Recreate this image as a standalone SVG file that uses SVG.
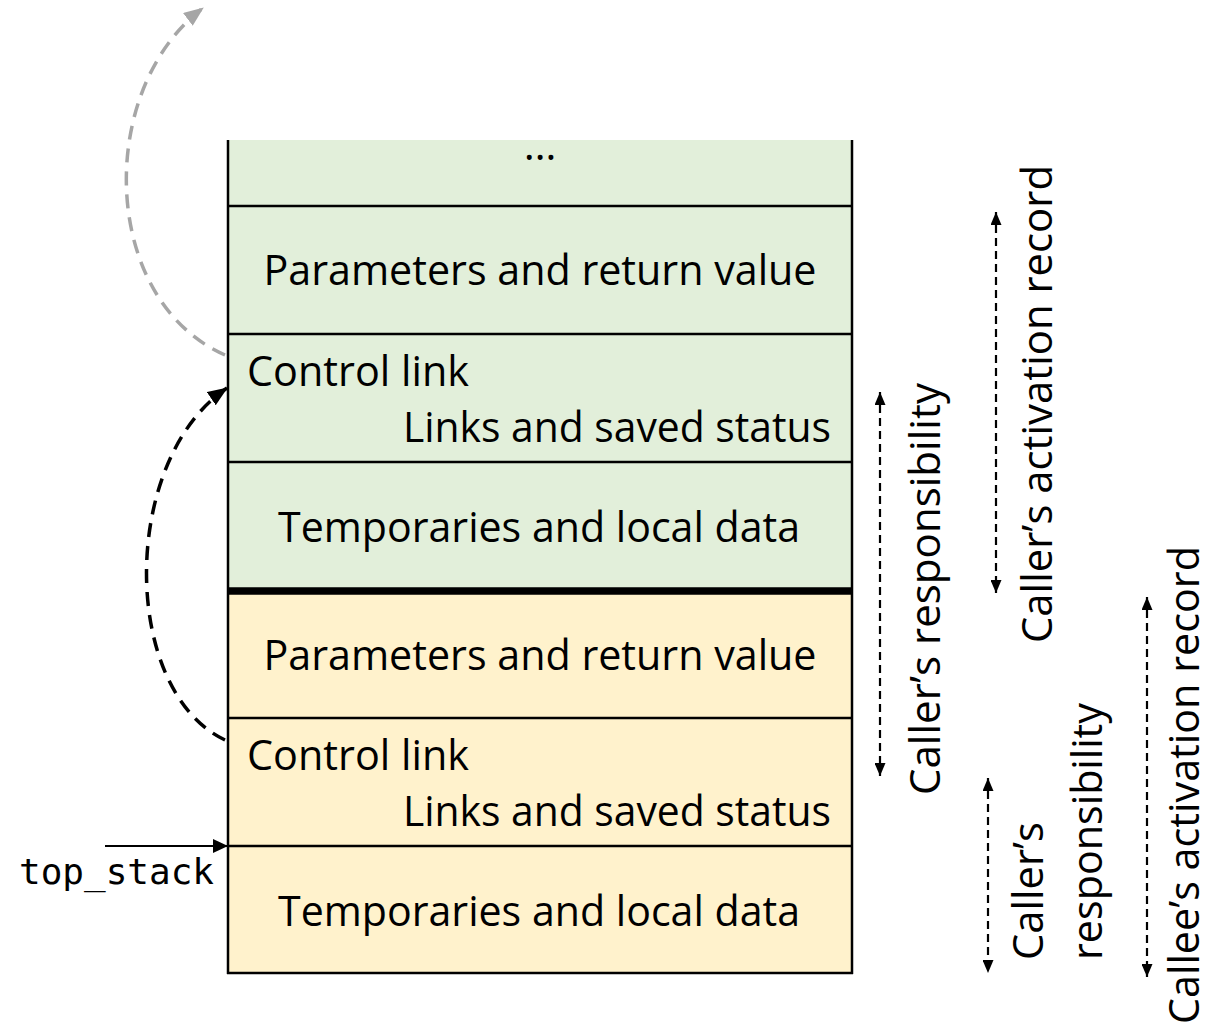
<svg xmlns="http://www.w3.org/2000/svg" width="1211" height="1029" viewBox="0 0 1211 1029">
  <style>
    .lbl { font-family: "Open Sans", "Noto Sans", "Liberation Sans", sans-serif; font-size: 42px; fill: #000; }
    .mono { font-family: "DejaVu Sans Mono", "Liberation Mono", monospace; font-size: 36px; fill: #000; }
    .rule { stroke: #000; stroke-width: 2.5; fill: none; }
    .span { stroke: #000; stroke-width: 2.2; stroke-dasharray: 8 5; fill: none; }
    .link { stroke: #000; stroke-width: 3.5; stroke-dasharray: 14 9; fill: none; }
    .link-up { stroke: #A6A6A6; stroke-width: 3.5; stroke-dasharray: 14 9; fill: none; }
  </style>
  <defs>
    <marker id="tip" markerUnits="userSpaceOnUse" markerWidth="13" markerHeight="11" refX="13" refY="5.5" orient="auto-start-reverse">
      <path d="M0,0 L13,5.5 L0,11 z" fill="#000"/>
    </marker>
    <marker id="head" markerUnits="userSpaceOnUse" markerWidth="20" markerHeight="16" refX="19" refY="8" orient="auto">
      <path d="M0,0 L20,8 L0,16 z" fill="#000"/>
    </marker>
    <marker id="head-grey" markerUnits="userSpaceOnUse" markerWidth="20" markerHeight="16" refX="19" refY="8" orient="auto">
      <path d="M0,0 L20,8 L0,16 z" fill="#A6A6A6"/>
    </marker>
    <marker id="ptr" markerUnits="userSpaceOnUse" markerWidth="15" markerHeight="14" refX="15" refY="7" orient="auto">
      <path d="M0,0 L15,7 L0,14 z" fill="#000"/>
    </marker>
  </defs>

  <!-- caller's activation record (green) -->
  <g id="caller-record">
    <rect x="228" y="140" width="624" height="451" fill="#E2EFDA"/>
    <g id="caller-more">
      <text class="lbl" x="540" y="160" text-anchor="middle">…</text>
    </g>
    <g id="caller-params">
      <text class="lbl" x="540" y="285" text-anchor="middle" textLength="553" lengthAdjust="spacingAndGlyphs">Parameters and return value</text>
    </g>
    <g id="caller-links">
      <text class="lbl" x="247" y="386" textLength="222" lengthAdjust="spacingAndGlyphs">Control link</text>
      <text class="lbl" x="831" y="442" text-anchor="end" textLength="428" lengthAdjust="spacingAndGlyphs">Links and saved status</text>
    </g>
    <g id="caller-locals">
      <text class="lbl" x="539" y="542" text-anchor="middle" textLength="522" lengthAdjust="spacingAndGlyphs">Temporaries and local data</text>
    </g>
  </g>

  <!-- callee's activation record (yellow) -->
  <g id="callee-record">
    <rect x="228" y="591" width="624" height="382" fill="#FFF2CC"/>
    <g id="callee-params">
      <text class="lbl" x="540" y="670" text-anchor="middle" textLength="553" lengthAdjust="spacingAndGlyphs">Parameters and return value</text>
    </g>
    <g id="callee-links">
      <text class="lbl" x="247" y="770" textLength="222" lengthAdjust="spacingAndGlyphs">Control link</text>
      <text class="lbl" x="831" y="826" text-anchor="end" textLength="428" lengthAdjust="spacingAndGlyphs">Links and saved status</text>
    </g>
    <g id="callee-locals">
      <text class="lbl" x="539" y="926" text-anchor="middle" textLength="522" lengthAdjust="spacingAndGlyphs">Temporaries and local data</text>
    </g>
  </g>

  <!-- stack frame outlines -->
  <g id="frame">
    <line class="rule" x1="228" y1="140" x2="228" y2="974"/>
    <line class="rule" x1="852" y1="140" x2="852" y2="974"/>
    <line class="rule" x1="227" y1="206" x2="853" y2="206"/>
    <line class="rule" x1="227" y1="334" x2="853" y2="334"/>
    <line class="rule" x1="227" y1="462" x2="853" y2="462"/>
    <line x1="227" y1="591" x2="853" y2="591" stroke="#000" stroke-width="7.5"/>
    <line class="rule" x1="227" y1="718" x2="853" y2="718"/>
    <line class="rule" x1="227" y1="846" x2="853" y2="846"/>
    <line class="rule" x1="227" y1="973" x2="853" y2="973"/>
  </g>

  <!-- stack pointer -->
  <g id="top-stack">
    <text class="mono" x="19" y="884" textLength="195" lengthAdjust="spacingAndGlyphs">top_stack</text>
  </g>

  <!-- side labels -->
  <g id="label-caller-resp">
    <text class="lbl" transform="translate(940,795) rotate(-90)" textLength="412" lengthAdjust="spacingAndGlyphs">Caller’s responsibility</text>
  </g>
  <g id="label-caller-record">
    <text class="lbl" transform="translate(1052,643) rotate(-90)" textLength="478" lengthAdjust="spacingAndGlyphs">Caller’s activation record</text>
  </g>
  <g id="label-callee-resp">
    <text class="lbl" transform="translate(1043,960) rotate(-90)" textLength="138" lengthAdjust="spacingAndGlyphs">Caller’s</text>
    <text class="lbl" transform="translate(1102,960) rotate(-90)" textLength="257" lengthAdjust="spacingAndGlyphs">responsibility</text>
  </g>
  <g id="label-callee-record">
    <text class="lbl" transform="translate(1199,1024) rotate(-90)" textLength="478" lengthAdjust="spacingAndGlyphs">Callee’s activation record</text>
  </g>

  <!-- connectors -->
  <g id="connectors">
    <path class="link-up" d="M225,355 C100,300 95,90 203,8" marker-end="url(#head-grey)"/>
    <path class="link" d="M225,740 C120,690 120,460 227,388" marker-end="url(#head)"/>
    <line x1="105" y1="846" x2="228" y2="846" stroke="#000" stroke-width="2" marker-end="url(#ptr)"/>
    <line class="span" x1="880" y1="392" x2="880" y2="776" marker-start="url(#tip)" marker-end="url(#tip)"/>
    <line class="span" x1="996" y1="212" x2="996" y2="593" marker-start="url(#tip)" marker-end="url(#tip)"/>
    <line class="span" x1="988" y1="778" x2="988" y2="973" marker-start="url(#tip)" marker-end="url(#tip)"/>
    <line class="span" x1="1147" y1="597" x2="1147" y2="977" marker-start="url(#tip)" marker-end="url(#tip)"/>
  </g>
</svg>
